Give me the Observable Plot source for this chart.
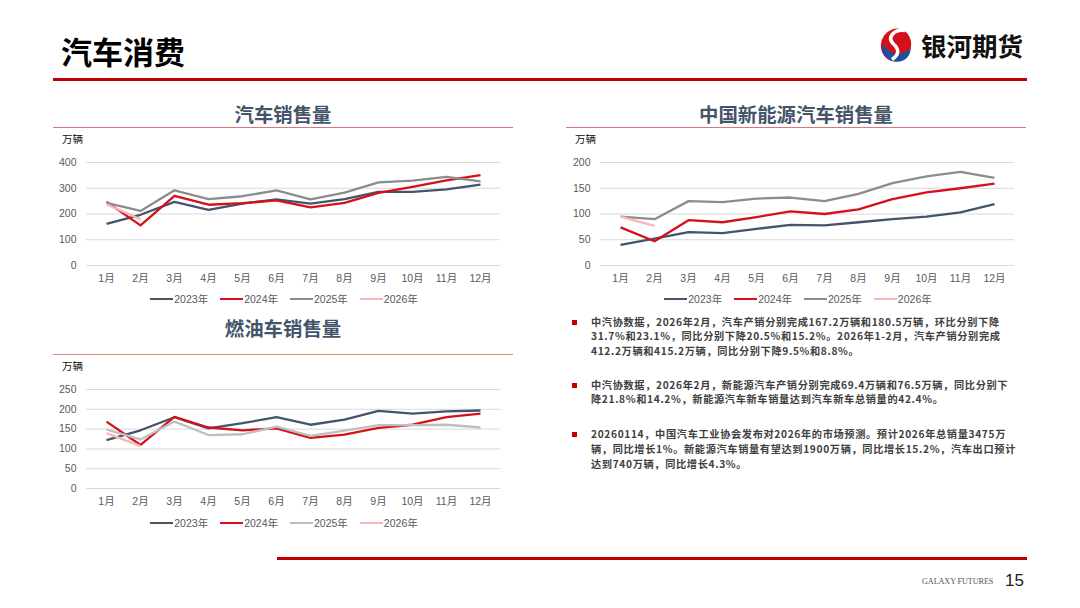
<!DOCTYPE html>
<html><head><meta charset="utf-8">
<script src="https://cdn.jsdelivr.net/npm/d3@7"></script>
<script src="https://cdn.jsdelivr.net/npm/@observablehq/plot@0.6"></script>
<style>
body{margin:0;width:1080px;height:608px;position:relative;background:#fff;overflow:hidden;
 font-family:"Liberation Sans","Noto Sans CJK SC",sans-serif}
.abs{position:absolute}
.ttl{position:absolute;width:400px;text-align:center;font-family:"Noto Sans CJK SC",sans-serif;font-weight:700;font-size:19.4px;line-height:24px;color:#44546A}
.uline{position:absolute;height:1.5px;background:#D9787C}
.unit{position:absolute;font-family:"Noto Sans CJK SC",sans-serif;font-size:10.5px;line-height:14px;color:#111}
.legend{position:absolute;display:flex;align-items:center;font-size:10.5px;color:#595959;line-height:14px;white-space:nowrap}
.legend .it{display:flex;align-items:center;margin-right:12px}
.legend .sw{width:23px;height:2.5px;margin-right:1px}
.bul{position:absolute;left:572px;width:5px;height:5px;background:#C00000}
.pl{position:absolute;left:591px;height:14.8px;font-family:"Noto Sans CJK SC",sans-serif;font-weight:700;font-size:10.2px;letter-spacing:0.65px;line-height:14.8px;color:#404040;white-space:nowrap}
</style></head><body>
<script>
// ---------- data ----------
const months = ["1月","2月","3月","4月","5月","6月","7月","8月","9月","10月","11月","12月"];
const years = ["2023年","2024年","2025年","2026年"];

// 汽车销售量 (万辆)
const total2023 = [162,197,247,216,240,257,240,258,286,286,296,314];
const total2024 = [247,156,270,236,242,253,226,243,282,305,331,351];
const total2025 = [243,212,292,258,269,292,257,283,323,330,344,327];
const total2026 = [238,179];

// 中国新能源汽车销售量 (万辆)
const nev2023 = [40,52,65,63,71,79,78,84,90,95,103,119];
const nev2024 = [74,47,88,84,94,105,100,109,129,142,150,159];
const nev2025 = [95,90,125,123,130,132,125,139,160,173,182,170];
const nev2026 = [95,77];

// 燃油车销售量 (万辆)
const ice2023 = [122,147,180,152,165,180,161,174,196,189,195,197];
const ice2024 = [169,110,181,154,147,152,128,136,153,161,180,189];
const ice2025 = [149,124,169,135,137,156,133,146,160,160,161,154];
const ice2026 = [140,107];

const ticksTotal = [0,100,200,300,400];
const ticksNev = [0,50,100,150,200];
const ticksIce = [0,50,100,150,200,250];

const colorsA = ["#44546A","#D4111B","#8C8C8C","#F6B7B9"];
const colorsB = ["#44546A","#D4111B","#BFBFBF","#F6B7B9"];

const bullets = [
 ["中汽协数据，2026年2月，汽车产销分别完成167.2万辆和180.5万辆，环比分别下降",
  "31.7%和23.1%，同比分别下降20.5%和15.2%。2026年1-2月，汽车产销分别完成",
  "412.2万辆和415.2万辆，同比分别下降9.5%和8.8%。"],
 ["中汽协数据，2026年2月，新能源汽车产销分别完成69.4万辆和76.5万辆，同比分别下",
  "降21.8%和14.2%，新能源汽车新车销量达到汽车新车总销量的42.4%。"],
 ["20260114，中国汽车工业协会发布对2026年的市场预测。预计2026年总销量3475万",
  "辆，同比增长1%。新能源汽车销量有望达到1900万辆，同比增长15.2%，汽车出口预计",
  "达到740万辆，同比增长4.3%。"]
];
const bulletTops = [314.5, 377.5, 427];

// ---------- helpers ----------
function longData(series){
  const out = [];
  series.forEach((vals, k) => vals.forEach((v, i) => out.push({year: years[k], month: months[i], value: v})));
  return out;
}
function add(html, cls, style){
  const d = document.createElement("div");
  if (cls) d.className = cls;
  d.setAttribute("style", style || "");
  d.innerHTML = html;
  document.body.appendChild(d);
  return d;
}
function chart(left, top, height, mt, mb, ml, mr, series, ticks, colors){
  const p = Plot.plot({
    width: 460, height, marginTop: mt, marginBottom: mb, marginLeft: ml, marginRight: mr,
    x: {type: "point", domain: months, padding: 0.5, label: null},
    y: {domain: [0, ticks[ticks.length-1]], label: null},
    color: {domain: years, range: colors},
    style: {fontFamily: '"Liberation Sans","Noto Sans CJK SC",sans-serif', fontSize: "10.5px", color: "#595959", background: "transparent", overflow: "visible"},
    marks: [
      Plot.gridY(ticks, {stroke: "#D9D9D9", strokeOpacity: 1, strokeWidth: 1}),
      Plot.axisY(ticks, {tickSize: 0, tickPadding: 10, label: null}),
      Plot.axisX({tickSize: 0, tickPadding: 9, label: null}),
      Plot.line(longData(series), {x: "month", y: "value", z: "year", stroke: "year", strokeWidth: 2.3, strokeLinejoin: "round", strokeLinecap: "butt"})
    ]
  });
  const w = add("", "abs", `left:${left}px;top:${top}px;`);
  w.appendChild(p);
}
function legend(centerX, cy, colors){
  const html = years.map((y, i) => `<div class="it"><div class="sw" style="background:${colors[i]}"></div><span>${y}</span></div>`).join("");
  const d = add(html, "legend", `top:${cy-7}px;left:0px;`);
  const w = d.getBoundingClientRect().width;
  d.style.left = (centerX - w/2 + 6) + "px";
}

// ---------- header ----------
add("汽车消费", "abs", "left:61px;top:32px;font-family:'Noto Sans CJK SC',sans-serif;font-weight:700;font-size:31px;line-height:38px;color:#000");
add(`<svg width="38" height="36" viewBox="0 0 38 36">
  <ellipse cx="19" cy="18" rx="15" ry="16.5" transform="rotate(18 19 18)" fill="#D4111B"/>
  <path d="M4.5 19 C5 31 16 37 25 34 C31 32 34 26 33.5 21 C27 29 13 29 8 19 Z" fill="#1F4E9C"/>
  <path d="M28 3.5 C17 2 10 10 16 16.5 C22 22 23 27 15 32.5" fill="none" stroke="#fff" stroke-width="3.6"/>
 </svg>`, "abs", "left:877px;top:27px;width:38px;height:36px");
add("银河期货", "abs", "left:921px;top:29px;font-family:'Noto Sans CJK SC',sans-serif;font-weight:700;font-size:25.5px;line-height:32px;color:#111");
add("", "abs", "left:53px;top:78px;width:974px;height:3px;background:#C00000");

// ---------- chart 1 ----------
add("汽车销售量", "ttl", "left:83px;top:102px");
add("", "uline", "left:53px;top:126.5px;width:460px");
add("万辆", "unit", "left:62px;top:132px");
chart(50, 140, 150, 22, 25, 36, 10, [total2023, total2024, total2025, total2026], ticksTotal, colorsA);
legend(284, 299, colorsA);

// ---------- chart 2 ----------
add("中国新能源汽车销售量", "ttl", "left:596px;top:102px");
add("", "uline", "left:566px;top:126.5px;width:460px");
add("万辆", "unit", "left:575px;top:132px");
chart(560, 140, 150, 22, 25, 40, 6, [nev2023, nev2024, nev2025, nev2026], ticksNev, colorsA);
legend(798, 299, colorsA);

// ---------- chart 3 ----------
add("燃油车销售量", "ttl", "left:83px;top:316px");
add("", "uline", "left:53px;top:353.5px;width:460px;background:#E08A80");
add("万辆", "unit", "left:62px;top:359px");
chart(50, 365, 150, 24, 27, 36, 10, [ice2023, ice2024, ice2025, ice2026], ticksIce, colorsB);
legend(284, 523, colorsB);

// ---------- text block ----------
bullets.forEach((lines, k) => {
  add("", "bul", `top:${bulletTops[k]+5}px`);
  lines.forEach((ln, j) => add(ln, "pl", `top:${bulletTops[k] + j*14.8}px`));
});

// ---------- footer ----------
add("", "abs", "left:277px;top:556.5px;width:750px;height:3px;background:#C00000");
add("GALAXY FUTURES", "abs", "left:922px;top:577px;font-family:'Liberation Serif',serif;font-size:8.2px;line-height:9px;color:#555;letter-spacing:-0.1px");
add("15", "abs", "left:1005px;top:571px;font-size:17px;line-height:20px;color:#222");
</script>
</body></html>
